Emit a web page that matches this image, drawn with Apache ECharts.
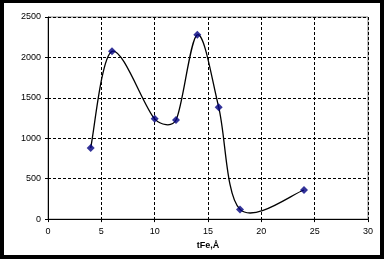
<!DOCTYPE html>
<html><head><meta charset="utf-8">
<script src="https://cdn.jsdelivr.net/npm/echarts@6/dist/echarts.min.js"></script>
<style>
html,body{margin:0;padding:0;background:#000;width:384px;height:259px;overflow:hidden;}
#c{position:absolute;left:4px;top:3px;width:376px;height:252px;background:#fff;}
</style></head><body>
<div id="c"></div>
<script>
const xValues = [4, 6, 10, 12, 14, 16, 18, 24];
const yValues = [880, 2075, 1240, 1225, 2280, 1385, 120, 360];
const xAxisName = 'tFe,Å';

const points = xValues.map((x, i) => [x, yValues[i]]);
const chart = echarts.init(document.getElementById('c'), null, {renderer: 'canvas'});
const font = 'Liberation Sans, Arial, sans-serif';
const TENSION = 1 / 6;
const CLAMP = 0.4;

function ctrl(from, prev, next, segLen, sign) {
  let vx = (next[0] - prev[0]) * TENSION, vy = (next[1] - prev[1]) * TENSION;
  const len = Math.hypot(vx, vy);
  const maxLen = CLAMP * segLen;
  if (len > maxLen && len > 0) { vx *= maxLen / len; vy *= maxLen / len; }
  return [from[0] + sign * vx, from[1] + sign * vy];
}

// Smoothed line like the spreadsheet's: cubic Bezier per segment
function renderSegment(params, api) {
  const i = params.dataIndex;
  const n = points.length;
  if (i >= n - 1) return null;
  const c = k => api.coord(points[Math.max(0, Math.min(n - 1, k))]);
  const p0 = c(i - 1), p1 = c(i), p2 = c(i + 1), p3 = c(i + 2);
  const seg = Math.hypot(p2[0] - p1[0], p2[1] - p1[1]);
  const cp1 = ctrl(p1, p0, p2, seg, 1);
  const cp2 = ctrl(p2, p1, p3, seg, -1);
  return {
    type: 'bezierCurve',
    shape: {x1: p1[0], y1: p1[1], cpx1: cp1[0], cpy1: cp1[1], cpx2: cp2[0], cpy2: cp2[1], x2: p2[0], y2: p2[1]},
    style: {stroke: '#000', lineWidth: 1.3, fill: null},
    silent: true
  };
}

chart.setOption({
  animation: false,
  backgroundColor: '#fff',
  grid: {left: 44, top: 14, right: 12, bottom: 34, show: true, borderColor: '#808080', borderWidth: 1},
  xAxis: {
    type: 'value', min: 0, max: 30, interval: 5,
    name: xAxisName, nameLocation: 'middle', nameGap: 21,
    nameTextStyle: {fontFamily: font, fontSize: 9, fontWeight: 'bold', color: '#000'},
    axisLine: {show: true, onZero: false, lineStyle: {color: '#000', width: 1}},
    axisTick: {show: true, length: 3, lineStyle: {color: '#000'}},
    axisLabel: {fontFamily: font, fontSize: 9, color: '#000', margin: 8, formatter: v => String(v)},
    splitLine: {show: true, lineStyle: {color: '#000', type: [3, 2], width: 1}}
  },
  yAxis: {
    type: 'value', min: 0, max: 2500, interval: 500,
    axisLine: {show: true, lineStyle: {color: '#000', width: 1}},
    axisTick: {show: true, length: 3, lineStyle: {color: '#000'}},
    axisLabel: {fontFamily: font, fontSize: 9, color: '#000', margin: 7, formatter: v => String(v)},
    splitLine: {show: true, lineStyle: {color: '#000', type: [3, 2], width: 1}}
  },
  series: [{
    type: 'custom',
    renderItem: renderSegment,
    data: points,
    encode: {x: 0, y: 1},
    z: 2
  }, {
    type: 'scatter',
    data: points,
    symbol: 'diamond', symbolSize: 8,
    itemStyle: {color: '#000080'},
    z: 3
  }]
});
</script></body></html>
